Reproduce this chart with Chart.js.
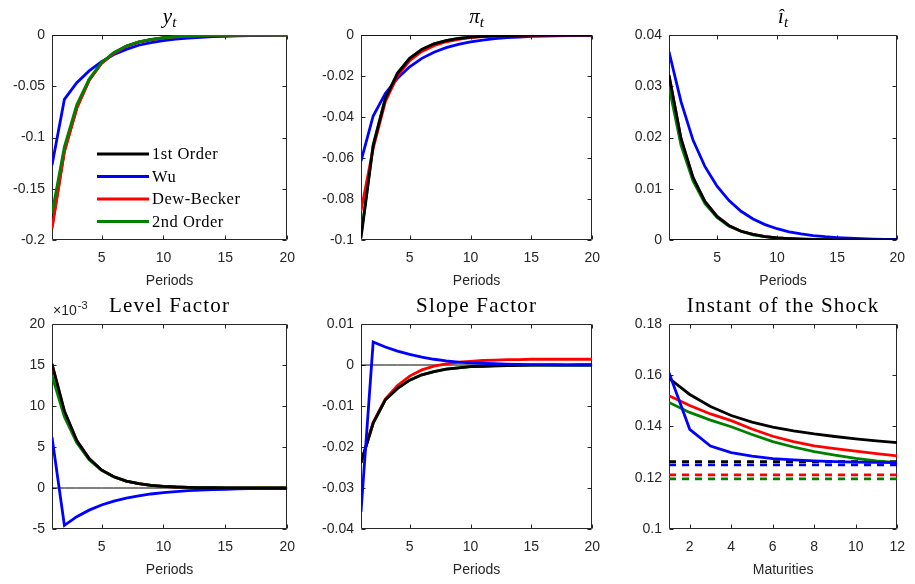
<!DOCTYPE html>
<html>
<head>
<meta charset="utf-8">
<script src="https://cdn.jsdelivr.net/npm/chart.js@4"></script>
<style>
  body { margin: 0; background: #fff; }
  #wrap { position: relative; width: 915px; height: 584px; }
  #wrap canvas { position: absolute; }
</style>
</head>
<body>
<div id="wrap"></div>
<script>
// ---- data ----
const periods = [1,2,3,4,5,6,7,8,9,10,11,12,13,14,15,16,17,18,19,20];
const maturities = [1,2,3,4,5,6,7,8,9,10,11,12];
const periodTicks = [5, 10, 15, 20];
const maturityTicks = [2, 4, 6, 8, 10, 12];
const seriesNames = ['1st Order', 'Wu', 'Dew-Becker', '2nd Order'];
const seriesColors = ['#000000', '#0000ff', '#ff0000', '#008000'];

// y_t
const yFirst  = [-0.187,-0.113,-0.071,-0.044,-0.0275,-0.018,-0.011,-0.007,-0.0045,-0.0028,-0.0018,-0.0011,-0.0007,-0.00045,-0.0003,-0.0002,-0.00012,-0.00008,-0.00005,-0.00003];
const yWu     = [-0.127,-0.0628,-0.0465,-0.035,-0.026,-0.019,-0.014,-0.010,-0.0075,-0.0055,-0.004,-0.003,-0.0022,-0.0016,-0.0012,-0.0009,-0.0006,-0.0005,-0.0003,-0.0002];
const yDew    = [-0.189,-0.114,-0.0715,-0.044,-0.0276,-0.018,-0.011,-0.007,-0.0045,-0.0028,-0.0018,-0.0011,-0.0007,-0.00045,-0.0003,-0.0002,-0.00012,-0.00008,-0.00005,-0.00003];
const ySecond = [-0.174,-0.109,-0.068,-0.043,-0.027,-0.017,-0.0107,-0.0067,-0.0042,-0.0027,-0.0017,-0.0011,-0.0007,-0.00045,-0.0003,-0.0002,-0.00012,-0.00008,-0.00005,-0.00003];

// pi_t
const piFirst  = [-0.099,-0.054,-0.031,-0.0187,-0.0114,-0.007,-0.0043,-0.0027,-0.0017,-0.001,-0.0006,-0.0004,-0.00025,-0.00015,-0.0001,-0.00006,-0.00004,-0.00002,-0.00001,0];
const piWu     = [-0.0615,-0.0395,-0.0285,-0.0211,-0.0155,-0.0114,-0.0084,-0.0062,-0.0046,-0.0034,-0.0025,-0.0018,-0.0013,-0.001,-0.0007,-0.0005,-0.0004,-0.0003,-0.0002,-0.00015];
const piDew    = [-0.0857,-0.0553,-0.0325,-0.02,-0.0125,-0.008,-0.0052,-0.0033,-0.0021,-0.0013,-0.0008,-0.0005,-0.0003,-0.0002,-0.00012,-0.00008,-0.00005,-0.00003,-0.00002,-0.00001];
const piSecond = [-0.098,-0.0535,-0.0308,-0.0186,-0.0113,-0.007,-0.0043,-0.0027,-0.0017,-0.001,-0.0006,-0.0004,-0.00025,-0.00015,-0.0001,-0.00006,-0.00004,-0.00002,-0.00001,0];

// i_t
const iFirst  = [0.0322,0.0198,0.0122,0.0075,0.0046,0.0028,0.0017,0.0011,0.00065,0.0004,0.00025,0.00015,0.0001,0.00006,0.00004,0.00002,0.00001,0.00001,0,0];
const iWu     = [0.0367,0.027,0.0195,0.0143,0.0105,0.0077,0.0056,0.0041,0.003,0.0022,0.0016,0.0012,0.00087,0.00064,0.00047,0.00034,0.00025,0.00018,0.00013,0.0001];
const iDew    = [0.0321,0.0197,0.0121,0.0075,0.0046,0.0028,0.0017,0.0011,0.00065,0.0004,0.00025,0.00015,0.0001,0.00006,0.00004,0.00002,0.00001,0.00001,0,0];
const iSecond = [0.0299,0.0185,0.0115,0.0071,0.0044,0.0027,0.0017,0.001,0.00065,0.0004,0.00025,0.00015,0.0001,0.00006,0.00004,0.00002,0.00001,0.00001,0,0];

// level factor (x 10^-3)
const levelFirst  = [15.15,9.4,5.8,3.6,2.2,1.37,0.85,0.52,0.32,0.2,0.12,0.076,0.047,0.029,0.018,0.011,0.007,0.004,0.003,0.002];
const levelWu     = [6.2,-4.55,-3.5,-2.7,-2.07,-1.6,-1.23,-0.95,-0.73,-0.56,-0.43,-0.33,-0.25,-0.19,-0.15,-0.11,-0.085,-0.065,-0.05,-0.04];
const levelDew    = [15.1,9.35,5.8,3.6,2.2,1.37,0.85,0.52,0.32,0.2,0.12,0.076,0.047,0.029,0.018,0.011,0.007,0.004,0.003,0.002];
const levelSecond = [13.7,8.7,5.5,3.45,2.15,1.35,0.85,0.53,0.33,0.21,0.13,0.08,0.05,0.03,0.02,0.012,0.008,0.005,0.003,0.002];

// slope factor
const slopeFirst  = [-0.0238,-0.0142,-0.0085,-0.0057,-0.0037,-0.0024,-0.0016,-0.001,-0.0007,-0.0004,-0.0003,-0.0002,-0.00012,-0.00008,-0.00005,-0.00003,-0.00002,-0.00001,0,0];
const slopeWu     = [-0.0358,0.0056,0.0044,0.0034,0.0026,0.0019,0.0014,0.001,0.0007,0.0005,0.0004,0.0003,0.0002,0.00015,0.0001,0.00008,0.00006,0.00004,0.00003,0.00002];
const slopeDew    = [-0.0238,-0.014,-0.0083,-0.005,-0.0027,-0.0012,-0.0003,0.0003,0.0007,0.0009,0.0011,0.0012,0.0013,0.0013,0.0014,0.0014,0.0014,0.0014,0.0014,0.0014];
const slopeSecond = [-0.0238,-0.0142,-0.0085,-0.0057,-0.0037,-0.0024,-0.0016,-0.001,-0.0007,-0.0004,-0.0003,-0.0002,-0.00012,-0.00008,-0.00005,-0.00003,-0.00002,-0.00001,0,0];

// instant of the shock (solid) and dashed levels
const shockFirst  = [0.1588,0.1525,0.1478,0.1443,0.1417,0.1398,0.1383,0.1371,0.1361,0.1352,0.1344,0.1337];
const shockWu     = [0.161,0.1389,0.1324,0.1298,0.1284,0.1275,0.127,0.1266,0.1263,0.1261,0.126,0.1259];
const shockDew    = [0.152,0.1482,0.1449,0.1423,0.139,0.1362,0.1341,0.1324,0.1314,0.1304,0.1294,0.1285];
const shockSecond = [0.1494,0.1455,0.1425,0.1399,0.1369,0.1341,0.132,0.1302,0.1288,0.1276,0.1266,0.1259];
const dashFirst  = [0.1263,0.1263,0.1263,0.1263,0.1263,0.1263,0.1263,0.1263,0.1263,0.1263,0.1263,0.1263];
const dashWu     = [0.125,0.125,0.125,0.125,0.125,0.125,0.125,0.125,0.125,0.125,0.125,0.125];
const dashDew    = [0.1211,0.1211,0.1211,0.1211,0.1211,0.1211,0.1211,0.1211,0.1211,0.1211,0.1211,0.1211];
const dashSecond = [0.1196,0.1196,0.1196,0.1196,0.1196,0.1196,0.1196,0.1196,0.1196,0.1196,0.1196,0.1196];

// ---- helpers ----
const AX = '#262626';
const pts = (xs, ys) => ys.map((v, i) => ({ x: xs[i], y: v }));

function line(xs, ys, k, order, dashed) {
  return {
    label: seriesNames[k], data: pts(xs, ys), borderColor: seriesColors[k],
    borderWidth: 2.8, borderDash: dashed ? [7, 6] : [], pointRadius: 0,
    tension: 0, order: order
  };
}
function zeroLine(xs) {
  return { label: 'zero', data: xs.map(x => ({ x: x, y: 0 })), borderColor: '#000',
           borderWidth: 1, pointRadius: 0, order: 9 };
}

// axes box with inward ticks, MATLAB style
const boxPlugin = {
  id: 'matbox',
  beforeDatasetsDraw(chart) {
    const { ctx, chartArea: a, scales } = chart;
    const L = 4;
    const l = Math.round(a.left) + 0.5, r = Math.round(a.right) - 0.5;
    const t = Math.round(a.top) + 0.5, b = Math.round(a.bottom) - 0.5;
    ctx.save();
    ctx.strokeStyle = AX;
    ctx.lineWidth = 1;
    ctx.setLineDash([]);
    ctx.beginPath();
    ctx.moveTo(l, t); ctx.lineTo(r, t); ctx.lineTo(r, b); ctx.lineTo(l, b); ctx.closePath();
    scales.x.ticks.forEach(tk => {
      const p = Math.round(scales.x.getPixelForValue(tk.value)) + 0.5;
      ctx.moveTo(p, b); ctx.lineTo(p, b - L);
      ctx.moveTo(p, t); ctx.lineTo(p, t + L);
    });
    scales.y.ticks.forEach(tk => {
      const p = Math.round(scales.y.getPixelForValue(tk.value)) + 0.5;
      ctx.moveTo(l, p); ctx.lineTo(l + L, p);
      ctx.moveTo(r, p); ctx.lineTo(r - L, p);
    });
    ctx.stroke();
    ctx.restore();
  },
  afterDraw(chart) {
    const o = chart.options.plugins.matbox || {};
    const { ctx, chartArea: a } = chart;
    ctx.save();
    ctx.fillStyle = '#000';
    ctx.textBaseline = 'alphabetic';
    // title made of pieces (italic / subscript)
    if (o.title) {
      const parts = o.title;
      const fontOf = p => (p.italic ? 'italic ' : '') + (p.sub ? '15px' : '21px') + ' "Liberation Serif", serif';
      let w = 0;
      parts.forEach(p => {
        ctx.font = fontOf(p);
        ctx.letterSpacing = p.italic ? '0px' : '1.2px';
        p.w = ctx.measureText(p.t).width;
        w += p.w;
      });
      let x = (a.left + a.right) / 2 - w / 2;
      const base = a.top - 12;
      parts.forEach(p => {
        ctx.font = fontOf(p);
        ctx.letterSpacing = p.italic ? '0px' : '1.2px';
        ctx.fillText(p.t, x, p.sub ? base + 4 : base);
        x += p.w;
      });
    }
    // exponent label
    if (o.exponent) {
      ctx.fillStyle = AX;
      ctx.letterSpacing = '0px';
      ctx.font = '14px "Liberation Sans", Arial, sans-serif';
      const x0 = a.left + 1, b = a.top - 9;
      ctx.fillText('\u00d710', x0, b);
      const w = ctx.measureText('\u00d710').width;
      ctx.font = '11px "Liberation Sans", Arial, sans-serif';
      ctx.fillText(o.exponent, x0 + w + 1, b - 6);
    }
    // legend inside the axes
    if (o.legend) {
      ctx.font = '16.5px "Liberation Serif", serif';
      ctx.letterSpacing = '0.5px';
      ctx.textBaseline = 'middle';
      seriesNames.forEach((name, k) => {
        const y = a.top + 119 + k * 22.5;
        const x = a.left + 45;
        ctx.strokeStyle = seriesColors[k];
        ctx.lineWidth = 2.8;
        ctx.beginPath(); ctx.moveTo(x, y); ctx.lineTo(x + 52, y); ctx.stroke();
        ctx.fillStyle = '#000';
        ctx.fillText(name, x + 55, y + 1);
      });
    }
    ctx.restore();
  }
};

function panel(cfg) {
  const c = document.createElement('canvas');
  c.width = cfg.w; c.height = cfg.h;
  c.style.left = cfg.left + 'px'; c.style.top = cfg.top + 'px';
  document.getElementById('wrap').appendChild(c);
  const tickFont = { family: '"Liberation Sans", Arial, sans-serif', size: 14 };
  new Chart(c, {
    type: 'line',
    data: { datasets: cfg.datasets },
    options: {
      responsive: false, animation: false, devicePixelRatio: 1,
      layout: { padding: { left: 0, top: cfg.plot[1] - cfg.top, right: cfg.left + cfg.w - cfg.plot[2],
                           bottom: cfg.top + cfg.h - cfg.plot[3] - 50 } },
      plugins: { legend: { display: false }, tooltip: { enabled: false }, matbox: cfg.box },
      scales: {
        x: {
          type: 'linear', min: cfg.xr[0], max: cfg.xr[1],
          grid: { display: false, drawTicks: false }, border: { display: false },
          ticks: { font: tickFont, color: AX, padding: 10, maxRotation: 0, autoSkip: false },
          title: { display: true, text: cfg.xTitle, font: tickFont, color: AX, padding: { top: 4, bottom: 0 } },
          afterBuildTicks: s => { s.ticks = cfg.xTicks.map(v => ({ value: v })); },
          afterFit: s => { s.height = 50; }
        },
        y: {
          type: 'linear', min: cfg.yTicks[0], max: cfg.yTicks[cfg.yTicks.length - 1],
          grid: { display: false, drawTicks: false }, border: { display: false },
          ticks: { font: tickFont, color: AX, padding: 7, autoSkip: false, callback: v => String(v) },
          afterBuildTicks: s => { s.ticks = cfg.yTicks.map(v => ({ value: v })); },
          afterFit: s => { s.width = cfg.plot[0] - cfg.left; }
        }
      }
    },
    plugins: [boxPlugin]
  });
}

const P = periods, M = maturities;

panel({ left: 0, top: 0, w: 305, h: 290, plot: [52, 35, 288, 240], xr: [1, 20], xTicks: periodTicks, xTitle: 'Periods',
  yTicks: [-0.2, -0.15, -0.1, -0.05, 0],
  box: { title: [{ t: 'y', italic: true }, { t: 't', italic: true, sub: true }], legend: true },
  datasets: [line(P, yFirst, 0, 4), line(P, yWu, 1, 3), line(P, yDew, 2, 2), line(P, ySecond, 3, 1), zeroLine(P)] });

panel({ left: 305, top: 0, w: 305, h: 290, plot: [361, 35, 596, 240], xr: [1, 20], xTicks: periodTicks, xTitle: 'Periods',
  yTicks: [-0.1, -0.08, -0.06, -0.04, -0.02, 0],
  box: { title: [{ t: '\u03c0', italic: true }, { t: 't', italic: true, sub: true }] },
  datasets: [line(P, piFirst, 0, 1), line(P, piWu, 1, 3), line(P, piDew, 2, 2), line(P, piSecond, 3, 4), zeroLine(P)] });

panel({ left: 610, top: 0, w: 305, h: 290, plot: [669, 35, 904, 240], xr: [1, 20], xTicks: periodTicks, xTitle: 'Periods',
  yTicks: [0, 0.01, 0.02, 0.03, 0.04],
  box: { title: [{ t: '\u00ee', italic: true }, { t: 't', italic: true, sub: true }] },
  datasets: [line(P, iFirst, 0, 1), line(P, iWu, 1, 2), line(P, iDew, 2, 4), line(P, iSecond, 3, 3), zeroLine(P)] });

panel({ left: 0, top: 290, w: 305, h: 294, plot: [52, 324, 288, 529], xr: [1, 20], xTicks: periodTicks, xTitle: 'Periods',
  yTicks: [-5, 0, 5, 10, 15, 20],
  box: { title: [{ t: 'Level Factor' }], exponent: '-3' },
  datasets: [line(P, levelFirst, 0, 1), line(P, levelWu, 1, 2), line(P, levelDew, 2, 4), line(P, levelSecond, 3, 3), zeroLine(P)] });

panel({ left: 305, top: 290, w: 305, h: 294, plot: [361, 324, 596, 529], xr: [1, 20], xTicks: periodTicks, xTitle: 'Periods',
  yTicks: [-0.04, -0.03, -0.02, -0.01, 0, 0.01],
  box: { title: [{ t: 'Slope Factor' }] },
  datasets: [line(P, slopeFirst, 0, 2), line(P, slopeWu, 1, 1), line(P, slopeDew, 2, 3), line(P, slopeSecond, 3, 4), zeroLine(P)] });

panel({ left: 610, top: 290, w: 305, h: 294, plot: [669, 324, 904, 529], xr: [1, 12], xTicks: maturityTicks, xTitle: 'Maturities',
  yTicks: [0.1, 0.12, 0.14, 0.16, 0.18],
  box: { title: [{ t: 'Instant of the Shock' }] },
  datasets: [line(M, shockFirst, 0, 4), line(M, shockWu, 1, 1), line(M, shockDew, 2, 3), line(M, shockSecond, 3, 2),
             line(M, dashFirst, 0, 5, true), line(M, dashWu, 1, 6, true), line(M, dashDew, 2, 7, true), line(M, dashSecond, 3, 8, true)] });
</script>
</body>
</html>
